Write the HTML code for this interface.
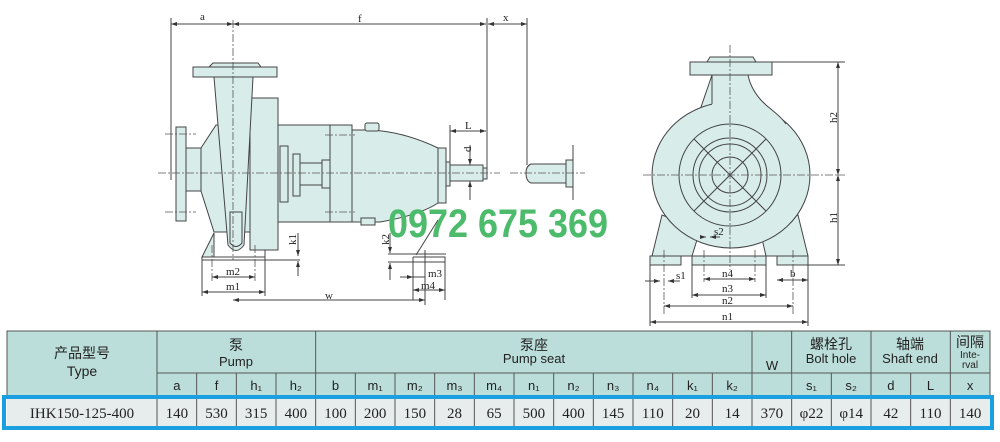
<!DOCTYPE html>
<html><head><meta charset="utf-8"><style>
html,body{margin:0;padding:0;background:#fff;}
svg{display:block;}
.l{stroke:#444;stroke-width:1;fill:none}
.f{fill:#d8ecea;stroke:#444;stroke-width:1}
.c{stroke:#555;stroke-width:0.8;stroke-dasharray:8 2 2 2;fill:none}
.t{font-family:"Liberation Serif",serif;font-size:11px;fill:#222}
.h{font-family:"Liberation Sans","Noto Sans CJK SC",sans-serif;font-size:13px;fill:#222;text-anchor:middle}
.d{font-family:"Liberation Serif",serif;font-size:15px;fill:#222;text-anchor:middle}
</style></head><body>
<svg width="1000" height="442" viewBox="0 0 1000 442" xmlns="http://www.w3.org/2000/svg">
<defs><marker id="a" markerWidth="6" markerHeight="6" refX="6" refY="3" orient="auto-start-reverse"><path d="M0,1 L6,3 L0,5z" fill="#333"/></marker></defs>
<!-- side view -->
<g>
<line class="l" x1="171" y1="18" x2="171" y2="180"/>
<line class="l" x1="487" y1="18" x2="487" y2="170"/>
<line class="l" x1="527" y1="18" x2="527" y2="165"/>
<line class="l" x1="171" y1="24" x2="233" y2="24" marker-start="url(#a)" marker-end="url(#a)"/>
<line class="l" x1="233" y1="24" x2="486" y2="24" marker-start="url(#a)" marker-end="url(#a)"/>
<line class="l" x1="488" y1="24" x2="527" y2="24" marker-start="url(#a)" marker-end="url(#a)"/>
<text class="t" x="200" y="20">a</text><text class="t" x="358" y="22">f</text><text class="t" x="503" y="21">x</text>
<path class="f" d="M202,257 L208,245 L214,233 L214,257z"/>
<rect class="f" x="176" y="127" width="10" height="94"/>
<rect class="f" x="186" y="148" width="16" height="43"/>
<path class="f" d="M201,148 L216,125 L250,125 L250,232 L214,232 L201,191z"/>
<rect class="f" x="250" y="98" width="28" height="152"/>
<rect class="f" x="193" y="67" width="84" height="10"/>
<path class="f" d="M209,67 L213,63 L258,63 L261,67z"/>
<path class="f" d="M214,77 L253,77 L244,245 Q236,256 228,245z"/>
<path class="l" d="M230,212 L230,243 Q236,250 242,243 L242,212 Z"/>
<rect class="f" x="278" y="125" width="52" height="97"/>
<rect class="f" x="280" y="146" width="8" height="56"/>
<rect class="f" x="293" y="154" width="7" height="42"/>
<rect class="f" x="300" y="163" width="22" height="22"/>
<rect class="f" x="322" y="160" width="8" height="28"/>
<rect class="f" x="330" y="125" width="22" height="97"/>
<path class="f" d="M352,130 L365,130 Q400,130 438,148 L438,203 Q420,215 380,222 L352,222z"/>
<rect class="f" x="365" y="123" width="14" height="8" rx="2"/>
<rect class="f" x="361" y="218" width="14" height="7"/>
<rect class="f" x="438" y="148" width="8" height="55"/>
<rect class="f" x="446" y="162" width="4" height="24"/>
<rect class="f" x="450" y="165" width="33" height="16"/>
<rect class="f" x="483" y="168" width="4" height="11"/>
<path class="f" d="M531,164 L566,164 L566,183 L531,183 Q526,181 526,173 Q526,166 531,164z"/>
<rect class="f" x="566" y="160" width="7" height="27"/>
<line class="l" x1="573" y1="145" x2="573" y2="200"/>
<line class="l" x1="450" y1="125" x2="450" y2="162"/>
<line class="l" x1="450" y1="131" x2="486" y2="131" marker-start="url(#a)" marker-end="url(#a)"/>
<text class="t" x="465" y="129">L</text>
<line class="l" x1="470" y1="145" x2="470" y2="165" marker-end="url(#a)"/>
<line class="l" x1="470" y1="200" x2="470" y2="181" marker-end="url(#a)"/>
<text class="t" x="466" y="153" transform="rotate(-90 468 150)">d</text>
<line class="c" x1="158" y1="173" x2="500" y2="173"/>
<line class="c" x1="510" y1="173" x2="585" y2="173"/>
<line class="c" x1="233" y1="20" x2="233" y2="260"/>
<line class="c" x1="165" y1="134" x2="196" y2="134"/><line class="c" x1="165" y1="212" x2="196" y2="212"/>
<line class="c" x1="325" y1="135" x2="355" y2="135"/><line class="c" x1="325" y1="212" x2="355" y2="212"/>
<line class="l" x1="202" y1="257" x2="265" y2="257"/>
<line class="l" x1="202" y1="260" x2="300" y2="260"/>
<line class="l" x1="202" y1="257" x2="202" y2="296"/>
<line class="l" x1="265" y1="250" x2="265" y2="296"/>
<line class="c" x1="212" y1="245" x2="212" y2="282"/><line class="c" x1="255" y1="245" x2="255" y2="282"/>
<line class="l" x1="212" y1="277" x2="255" y2="277" marker-start="url(#a)" marker-end="url(#a)"/>
<text class="t" x="226" y="275">m2</text>
<line class="l" x1="202" y1="292" x2="265" y2="292" marker-start="url(#a)" marker-end="url(#a)"/>
<text class="t" x="226" y="290">m1</text>
<line class="l" x1="233" y1="300" x2="425" y2="300" marker-start="url(#a)" marker-end="url(#a)"/>
<line class="l" x1="425" y1="260" x2="425" y2="305"/>
<text class="t" x="325" y="299">w</text>
<line class="l" x1="298" y1="233" x2="298" y2="256" marker-end="url(#a)"/>
<line class="l" x1="298" y1="276" x2="298" y2="261" marker-end="url(#a)"/>
<text class="t" x="290" y="245" transform="rotate(-90 293 242)">k1</text>
<path class="l" d="M416,255 L438,220 M413,257 L445,257 L445,300 M388,254 L446,254 M388,262 L445,262 M413,257 L413,300 M425,250 L425,300"/>
<line class="l" x1="390" y1="233" x2="390" y2="253" marker-end="url(#a)"/>
<line class="l" x1="390" y1="280" x2="390" y2="263" marker-end="url(#a)"/>
<text class="t" x="382" y="244" transform="rotate(-90 386 241)">k2</text>
<line class="l" x1="400" y1="277" x2="413" y2="277" marker-end="url(#a)"/>
<line class="l" x1="413" y1="277" x2="425" y2="277"/>
<text class="t" x="428" y="277">m3</text>
<line class="l" x1="413" y1="290" x2="445" y2="290" marker-start="url(#a)" marker-end="url(#a)"/>
<text class="t" x="421" y="289">m4</text>
</g>
<text x="388" y="237" style="font-family:'Liberation Sans Narrow','Liberation Sans',sans-serif;font-weight:bold;font-size:40px;fill:#4cbb6b" textLength="220" lengthAdjust="spacingAndGlyphs">0972 675 369</text>
<!-- front view -->
<g>
<path class="f" d="M652,256 L662,215 L700,230 L692,256z"/>
<path class="f" d="M808,256 L798,215 L760,230 L766,256z"/>
<path class="f" d="M712,75 L700,110 L715,110z"/>
<ellipse class="f" cx="731" cy="175" rx="79" ry="73"/>
<path d="M712,75 L748,75 Q752,95 772,110 Q782,118 786,124 L712,124z" fill="#d8ecea"/>
<path class="l" d="M712,75 L712,104"/>
<path class="l" d="M748,75 Q752,95 772,110 Q782,118 786,124"/>
<rect class="f" x="690" y="62" width="82" height="13"/>
<path class="f" d="M707,62 L710,57 L753,57 L756,62z"/>
<circle class="l" cx="730" cy="175" r="51"/><circle class="l" cx="730" cy="175" r="37"/><circle class="l" cx="730" cy="175" r="31"/><circle class="l" cx="730" cy="175" r="18"/>
<line class="l" x1="694" y1="139" x2="766" y2="211"/><line class="l" x1="766" y1="139" x2="694" y2="211"/>
<rect class="f" x="650" y="256" width="31" height="9"/>
<rect class="f" x="692" y="256" width="74" height="9"/>
<rect class="f" x="777" y="256" width="31" height="9"/>
<line class="c" x1="730" y1="45" x2="730" y2="270"/>
<line class="c" x1="643" y1="175" x2="845" y2="175"/>
<line class="l" x1="772" y1="62" x2="845" y2="62"/><line class="l" x1="808" y1="265" x2="845" y2="265"/>
<line class="l" x1="838" y1="62" x2="838" y2="175" marker-start="url(#a)" marker-end="url(#a)"/>
<line class="l" x1="838" y1="175" x2="838" y2="265" marker-start="url(#a)" marker-end="url(#a)"/>
<text class="t" x="830" y="124" transform="rotate(-90 833 120)">h2</text>
<text class="t" x="830" y="224" transform="rotate(-90 833 220)">h1</text>
<path class="l" d="M650,265 L650,326 M808,265 L808,326 M692,265 L692,298 M766,265 L766,298"/>
<line class="c" x1="664" y1="250" x2="664" y2="316"/><line class="c" x1="793" y1="250" x2="793" y2="316"/>
<line class="c" x1="704" y1="250" x2="704" y2="282"/><line class="c" x1="755" y1="250" x2="755" y2="282"/>
<line class="l" x1="650" y1="322" x2="808" y2="322" marker-start="url(#a)" marker-end="url(#a)"/><text class="t" x="722" y="320">n1</text>
<line class="l" x1="664" y1="306" x2="793" y2="306" marker-start="url(#a)" marker-end="url(#a)"/><text class="t" x="722" y="304">n2</text>
<line class="l" x1="692" y1="295" x2="766" y2="295" marker-start="url(#a)" marker-end="url(#a)"/><text class="t" x="722" y="292">n3</text>
<line class="l" x1="704" y1="279" x2="755" y2="279" marker-start="url(#a)" marker-end="url(#a)"/><text class="t" x="722" y="277">n4</text>
<line class="l" x1="777" y1="280" x2="808" y2="280" marker-start="url(#a)" marker-end="url(#a)"/><text class="t" x="790" y="277">b</text>
<line class="l" x1="645" y1="281" x2="660" y2="281" marker-end="url(#a)"/><line class="l" x1="680" y1="281" x2="668" y2="281" marker-end="url(#a)"/><text class="t" x="676" y="279">s1</text>
<line class="l" x1="700" y1="237" x2="706" y2="237" marker-end="url(#a)"/><line class="l" x1="720" y1="237" x2="710" y2="237" marker-end="url(#a)"/><text class="t" x="714" y="235">s2</text>
</g>
<!-- table -->
<rect x="7" y="331" width="983" height="66" fill="#bcdedb" stroke="#555"/>
<rect x="7" y="397" width="983" height="31" fill="#e7eded"/>
<g stroke="#555" stroke-width="1">
<line x1="157" y1="331" x2="157" y2="428"/>
<line x1="157" y1="373" x2="990" y2="373"/>
<line x1="7" y1="397" x2="990" y2="397"/>
</g>
<g id="cols"></g>
<rect x="4" y="397" width="988" height="31" fill="none" stroke="#1aa0e0" stroke-width="4"/>
<text class="h" x="82" y="358" style="font-size:14px">产品型号</text>
<text class="h" x="82" y="376" style="font-size:14px">Type</text>
<text class="h" x="236" y="350" style="font-size:14px">泵</text><text class="h" x="236" y="366">Pump</text>
<text class="h" x="534" y="350" style="font-size:14px">泵座</text><text class="h" x="534" y="363">Pump seat</text>
<text class="h" x="772" y="370">W</text>
<text class="h" x="831" y="349" style="font-size:14px">螺栓孔</text><text class="h" x="831" y="363">Bolt hole</text>
<text class="h" x="910" y="349" style="font-size:14px">轴端</text><text class="h" x="910" y="363">Shaft end</text>
<text class="h" x="970" y="347" style="font-size:14px">间隔</text><text class="h" x="970" y="358" style="font-size:10px">Inte-</text><text class="h" x="970" y="368" style="font-size:10px">rval</text>
<text class="d" x="82" y="418">IHK150-125-400</text>
<script>
var hd=["a","f","h₁","h₂","b","m₁","m₂","m₃","m₄","n₁","n₂","n₃","n₄","k₁","k₂","","s₁","s₂","d","L","x"];
var dv=["140","530","315","400","100","200","150","28","65","500","400","145","110","20","14","370","φ22","φ14","42","110","140"];
var g=document.getElementById("cols"),ns="http://www.w3.org/2000/svg",w=833/21;
for(var i=0;i<21;i++){var x0=157+i*w,cx=x0+w/2;
 if(i>0){var l=document.createElementNS(ns,"line");l.setAttribute("x1",x0);l.setAttribute("x2",x0);
 l.setAttribute("y1",(i==4||i==15||i==16||i==18||i==20)?331:373);l.setAttribute("y2",428);l.setAttribute("stroke","#555");g.appendChild(l);}
 if(hd[i]){var t=document.createElementNS(ns,"text");t.setAttribute("class","h");t.setAttribute("x",cx);t.setAttribute("y",390);t.textContent=hd[i];g.appendChild(t);}
 var d=document.createElementNS(ns,"text");d.setAttribute("class","d");d.setAttribute("x",cx);d.setAttribute("y",418);d.textContent=dv[i];g.appendChild(d);}
var w15=157+15*w;var r=document.createElementNS(ns,"rect");r.setAttribute("x",w15+0.5);r.setAttribute("y",373.5);r.setAttribute("width",w-1);r.setAttribute("height",23);r.setAttribute("fill","#bcdedb");g.appendChild(r);
</script>
</svg>
</body></html>
